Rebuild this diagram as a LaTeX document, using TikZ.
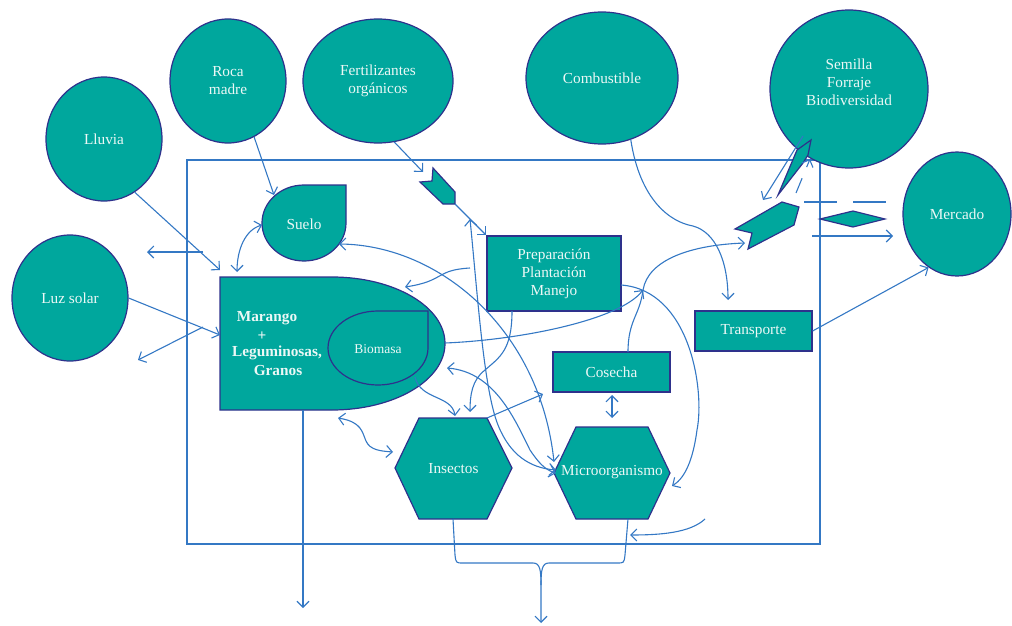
\documentclass[tikz,border=0pt]{standalone}
\usepackage{fontspec}
\setmainfont{Liberation Serif}
\usetikzlibrary{shapes.geometric,arrows.meta}
\definecolor{tealf}{RGB}{0,167,157}
\definecolor{navy}{RGB}{46,49,140}
\definecolor{cblue}{RGB}{52,120,196}
\definecolor{txtc}{RGB}{236,248,246}
\begin{document}
\begin{tikzpicture}[x=1pt,y=1pt,
  shp/.style={fill=tealf, draw=navy, line width=1.2pt, line join=miter},
  bub/.style={shp, ellipse, inner sep=0pt, text=txtc, font=\fontsize{15.3}{18}\selectfont, align=center},
  box/.style={shp, rectangle, inner sep=0pt, text=txtc, font=\fontsize{15.3}{18}\selectfont, align=center},
  lbl/.style={text=txtc, font=\fontsize{15.3}{18}\selectfont, align=center, inner sep=0pt},
  blbl/.style={lbl, font=\fontsize{15.3}{18}\selectfont\bfseries},
  conn/.style={draw=cblue, line width=1.1pt},
  arr/.style={conn, -{Straight Barb[length=6pt,width=12pt]}},
  darr/.style={conn, {Straight Barb[length=6pt,width=12pt]}-{Straight Barb[length=6pt,width=12pt]}},
  frm/.style={draw=cblue, line width=2.7pt}]
\useasboundingbox (0,0) rectangle (1012,-626);

% frame
\draw[frm] (187,-160) rectangle (820,-544);

% ellipses
\node[bub, minimum width=116pt, minimum height=124pt] (lluvia) at (104,-139) {Lluvia};
\node[bub, minimum width=116pt, minimum height=124pt] (roca) at (228,-81) {Roca\\madre};
\node[bub, minimum width=150pt, minimum height=124pt] (fert) at (378,-81) {Fertilizantes\\orgánicos};
\node[bub, minimum width=152pt, minimum height=132pt] (comb) at (602,-78) {Combustible};
\node[bub, minimum width=158pt, minimum height=158pt] (semilla) at (849,-89) {};
\node[lbl] (semillaT) at (849,-82) {Semilla\\Forraje\\Biodiversidad};
\node[bub, minimum width=108pt, minimum height=124pt] (merc) at (957,-214) {Mercado};
\node[bub, minimum width=116pt, minimum height=126pt] (luz) at (70,-298) {Luz solar};

% Suelo
\filldraw[shp] (346,-185) -- (346,-223) arc[start angle=0,end angle=-270,x radius=42,y radius=38] -- cycle;
\node[lbl] (suelo) at (304,-224) {Suelo};

% Marango
\filldraw[shp] (220,-277) -- (332,-277) arc[start angle=90,end angle=-90,x radius=113,y radius=66.5] -- (220,-410) -- cycle;
\node[blbl] (mar1) at (267,-318) {Marango};
\node[blbl] (mar2) at (262,-336) {+};
\node[blbl] (mar3) at (277,-353) {Leguminosas,};
\node[blbl] (mar4) at (278,-371) {Granos};

% Biomasa
\filldraw[shp] (428,-311) -- (428,-348) arc[start angle=0,end angle=-270,x radius=50,y radius=37] -- cycle;
\node[lbl, font=\fontsize{13.5}{16}\selectfont] (bio) at (378,-349) {Biomasa};

% boxes
\node[box, minimum width=134pt, minimum height=75pt] (prep) at (554,-273.5) {Preparación\\Plantación\\Manejo};
\node[box, minimum width=117pt, minimum height=40pt] (cos) at (611.5,-372) {Cosecha};
\node[box, minimum width=117pt, minimum height=40pt] (trans) at (753.5,-331) {Transporte};

% hexagons
\filldraw[shp] (395,-468) -- (419,-418) -- (487,-418) -- (512,-468) -- (487,-519) -- (419,-519) -- cycle;
\node[lbl] (ins) at (453.5,-469) {Insectos};
\filldraw[shp] (554,-473) -- (576,-427) -- (648,-427) -- (670,-473) -- (648,-519) -- (576,-519) -- cycle;
\node[lbl] (mic) at (612,-472) {Microorganismo};

% chevrons and diamond
\filldraw[shp] (433,-168) -- (432,-181) -- (420,-182) -- (443,-204) -- (455,-204) -- (455,-192) -- cycle;
\filldraw[shp] (811,-140) -- (797,-150) -- (778,-195) -- (803,-163) -- (808,-155) -- cycle;
\filldraw[shp] (735,-229) -- (782,-202) -- (799,-207) -- (794,-225) -- (748,-249) -- (752,-233) -- cycle;
\filldraw[shp] (820,-219) -- (853,-211) -- (885,-219) -- (853,-227) -- cycle;

% named points
\coordinate (sueloN) at (274,-195);
\coordinate (sueloW) at (262,-225);
\coordinate (sueloSE) at (339,-244);
\coordinate (marN) at (237,-272);
\coordinate (marW1) at (220,-270);
\coordinate (marW2) at (220,-335);
\coordinate (marE) at (445,-343);
\coordinate (marNE) at (405,-287);
\coordinate (marSE) at (447,-368);
\coordinate (marSW) at (338,-418);
\coordinate (marS) at (303,-410);
\coordinate (marOut) at (303,-608);
\coordinate (bioS) at (415,-377);
\coordinate (ch1A) at (423,-172);
\coordinate (ch1B) at (455,-204);
\coordinate (ch3W) at (745,-243);
\coordinate (prepS) at (512,-311);
\coordinate (prepE) at (621,-285);
\coordinate (prepL) at (470,-268);
\coordinate (vtop) at (470,-219);
\coordinate (insN) at (455,-416);
\coordinate (insN2) at (470,-412);
\coordinate (insW) at (393,-452);
\coordinate (insNE) at (487,-418);
\coordinate (insS) at (453,-519);
\coordinate (micNW) at (554,-462);
\coordinate (micW) at (556,-470);
\coordinate (micW2) at (556,-473);
\coordinate (micE) at (672,-486);
\coordinate (micN) at (612,-418);
\coordinate (micS) at (628,-519);
\coordinate (micSE) at (630,-535);
\coordinate (cosN) at (628,-352);
\coordinate (cosS) at (612,-395);
\coordinate (cosSW) at (543,-394);
\coordinate (junc) at (643,-290);
\coordinate (inB) at (705,-519);
\coordinate (outA) at (203,-252);
\coordinate (outAe) at (147,-252);
\coordinate (outB) at (203,-327);
\coordinate (outBe) at (138,-360);
\coordinate (semA) at (803,-136);
\coordinate (semAe) at (763,-200);
\coordinate (semB) at (796,-193);
\coordinate (semBe) at (810,-159);
\coordinate (dashA) at (804,-202);
\coordinate (dashB) at (887,-202);
\coordinate (mkA) at (812,-236);
\coordinate (mkB) at (893,-236);
\coordinate (transTop) at (728,-300);
\coordinate (bottom) at (541,-623);

% connectors
\draw[arr] (roca.-65) -- (sueloN);
\draw[arr] (fert.-75) -- (ch1A);
\draw[arr] (ch1B) -- (prep.north west);
\draw[arr] (lluvia.-60) -- (marW1);
\draw[arr] (outA) -- (outAe);
\draw[arr] (luz.east) -- (marW2);
\draw[arr] (outB) -- (outBe);
\draw[darr] (sueloW) .. controls (245,-230) and (237,-250) .. (marN);
\draw[arr] (prepL) .. controls (435,-270) and (445,-281) .. (marNE);
\draw[darr] (sueloSE) .. controls (440,-245) and (540,-330) .. (micNW);
\draw[darr] (vtop) .. controls (478,-300) and (484,-390) .. (498,-425) .. controls (510,-455) and (530,-468) .. (micW);
\draw[darr] (marSE) .. controls (495,-372) and (515,-420) .. (530,-450) .. controls (538,-462) and (545,-470) .. (micW2);
\draw[arr] (prepS) .. controls (512,-350) and (500,-357) .. (485,-370) .. controls (472,-380) and (470,-395) .. (insN2);
\draw[arr] (bioS) .. controls (420,-400) and (452,-395) .. (insN);
\draw[arr] (marE) .. controls (520,-340) and (620,-320) .. (junc);
\draw[arr] (cosN) .. controls (628,-320) and (640,-315) .. (junc) .. controls (648,-260) and (690,-245) .. (ch3W);
\draw[arr] (prepE) .. controls (690,-290) and (705,-390) .. (697,-430) .. controls (693,-460) and (685,-478) .. (micE);
\draw[arr] (comb.-65) .. controls (640,-200) and (670,-222) .. (693,-226) .. controls (715,-232) and (728,-260) .. (transTop);
\draw[arr] (trans.east) -- (merc.-118);
\draw[arr] (insNE) -- (cosSW);
\draw[darr] (cosS) -- (micN);
\draw[darr] (marSW) .. controls (362,-422) and (362,-432) .. (366,-441) .. controls (370,-450) and (380,-451) .. (insW);
\draw[arr] (inB) .. controls (690,-533) and (660,-535) .. (micSE);
\draw[arr] (marS) -- (marOut);
\draw[arr] (insS) -- (455,-555) .. controls (456,-563) .. (463,-563) -- (533,-563) .. controls (540,-563) and (541,-570) .. (541,-585) -- (bottom);
\draw[conn] (micS) -- (625,-555) .. controls (624,-563) .. (617,-563) -- (549,-563) .. controls (542,-563) and (541,-570) .. (541,-585);
\draw[arr] (semA) -- (semAe);
\draw[arr, dash pattern=on 16pt off 12pt] (semB) -- (semBe);
\draw[conn, dash pattern=on 33pt off 16pt] (dashA) -- (dashB);
\draw[arr] (mkA) -- (mkB);
\end{tikzpicture}
\end{document}
